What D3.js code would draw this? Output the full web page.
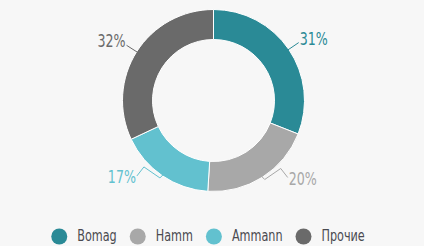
<!DOCTYPE html>
<html>
<head>
<meta charset="utf-8">
<script src="https://cdn.jsdelivr.net/npm/d3@7"></script>
<style>
  body { margin: 0; background: #f7f7f7; }
  svg { display: block; }
  text { font-family: "DejaVu Sans Condensed", "Liberation Sans Narrow", sans-serif; }
</style>
</head>
<body>
<div id="chart"></div>
<script>
// chart data
const categories = ["Bomag", "Hamm", "Ammann", "Прочие"];
const shares = [31, 20, 17, 32];
const colors = ["#2a8a96", "#a8a8a8", "#62c1cf", "#6a6a6a"];

const width = 424, height = 246;
const cx = 213.5, cy = 100.5;
const outerR = 91, innerR = 61;
const squeeze = 0.78; // narrow the font horizontally

const svg = d3.select("#chart").append("svg")
    .attr("width", width)
    .attr("height", height);

const g = svg.append("g")
    .attr("transform", "translate(" + cx + "," + cy + ")");

const pie = d3.pie().sort(null).value(d => d.value);
const arc = d3.arc().innerRadius(innerR).outerRadius(outerR);

const data = categories.map((c, i) => ({ name: c, value: shares[i], color: colors[i] }));
const arcs = pie(data);

// slices
g.selectAll(".slice")
    .data(arcs)
    .enter().append("path")
    .attr("class", "slice")
    .attr("d", arc)
    .attr("fill", d => d.data.color)
    .attr("stroke", "#ffffff")
    .attr("stroke-width", 1);

// leader lines + labels
function polar(a, r) {
    return [r * Math.sin(a), -r * Math.cos(a)];
}

arcs.forEach(d => {
    const mid = (d.startAngle + d.endAngle) / 2;
    const p0 = polar(mid, outerR - 1);
    const right = Math.sin(mid) >= 0;
    const s = right ? 1 : -1;
    let pts, tx, ty;
    if (Math.cos(mid) > 0) {
        // upper half: straight radial line
        const p1 = polar(mid, outerR + 12);
        pts = [p0, p1];
        tx = p1[0] + s * 1;
        ty = p1[1] - 3;
    } else {
        // lower half: small zigzag
        const p1 = [p0[0] + s * 3, p0[1] + 3];
        const p2 = [p1[0] + s * 16, p1[1] - 11];
        const p3 = [p2[0] + s * 7, p2[1] + 9];
        pts = [p0, p1, p2, p3];
        tx = p3[0] + s * 1;
        ty = p3[1] + 2;
    }
    g.append("path")
        .attr("d", d3.line()(pts))
        .attr("fill", "none")
        .attr("stroke", d.data.color)
        .attr("stroke-width", 1);
    g.append("text")
        .attr("transform", "translate(" + tx + "," + ty + ") scale(" + squeeze + ",1)")
        .attr("text-anchor", right ? "start" : "end")
        .attr("dominant-baseline", "middle")
        .attr("fill", d.data.color)
        .style("font-size", "18px")
        .text(d.data.value + "%");
});

// legend
const legend = svg.append("g").attr("class", "legend");
const items = legend.selectAll(".legend-item")
    .data(data)
    .enter().append("g")
    .attr("class", "legend-item");

items.append("circle")
    .attr("r", 8)
    .attr("cx", 0)
    .attr("cy", 0)
    .attr("fill", d => d.color);

items.append("text")
    .attr("transform", "translate(18,0) scale(" + squeeze + ",1)")
    .attr("dominant-baseline", "middle")
    .attr("fill", "#4a4a50")
    .style("font-size", "16px")
    .text(d => d.name);

let xPos = 0;
const offsets = [];
items.each(function () {
    offsets.push(xPos);
    const w = d3.select(this).select("text").node().getComputedTextLength() * squeeze;
    xPos += 18 + w + 21;
});
const totalW = xPos - 21 + 8;
const startX = 208 - totalW / 2 + 8;
items.attr("transform", (d, i) => "translate(" + (startX + offsets[i]) + ",236.5)");
</script>
</body>
</html>
